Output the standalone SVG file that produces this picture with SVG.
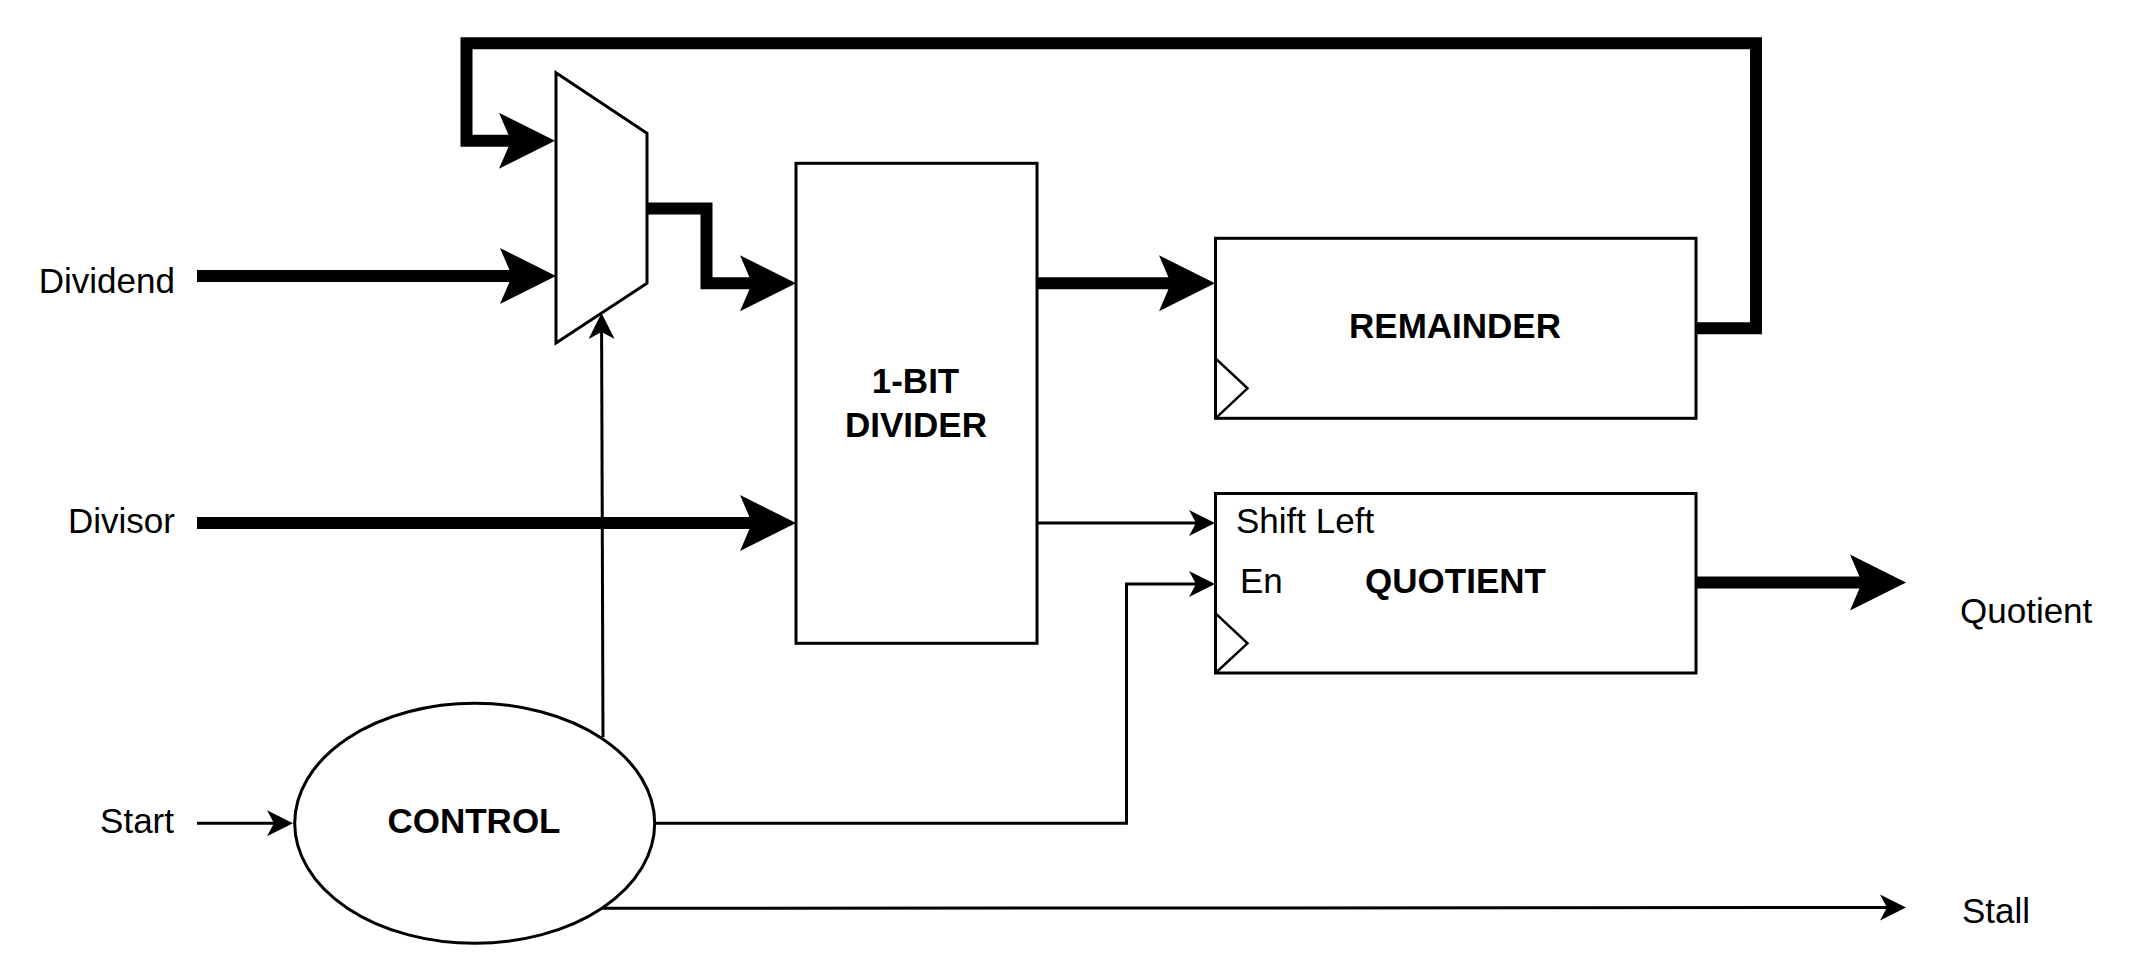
<svg xmlns="http://www.w3.org/2000/svg" width="2133" height="960" viewBox="0 0 2133 960">
<style>
.box{fill:#fff;stroke:#000;stroke-width:3}
.clk{fill:none;stroke:#000;stroke-width:2.5}
.bus{fill:none;stroke:#000;stroke-width:12;stroke-linejoin:miter}
.wire{fill:none;stroke:#000;stroke-width:3}
.t{font-family:"Liberation Sans",Arial,sans-serif;font-size:35px;fill:#000}
.b{font-weight:bold}
.m{text-anchor:middle}
.e{text-anchor:end}
</style>
<defs>
<marker id="big" markerUnits="userSpaceOnUse" viewBox="-1 -30 60 60" refX="12" refY="0" markerWidth="60" markerHeight="60" orient="auto" overflow="visible">
<path d="M0,-28 L56,0 L0,28 L12,0 Z" fill="#000"/>
</marker>
<marker id="small" markerUnits="userSpaceOnUse" viewBox="-1 -15 30 30" refX="7" refY="0" markerWidth="30" markerHeight="30" orient="auto" overflow="visible">
<path d="M0,-13 L26,0 L0,13 L7,0 Z" fill="#000"/>
</marker>
</defs>

<g id="connectors">
<path class="bus" d="M1696,328.3 H1756 V43.3 H466.5 V140.8 H511" marker-end="url(#big)"/>
<path class="bus" d="M197,276 H512" marker-end="url(#big)"/>
<path class="bus" d="M647,208.5 H706.5 V283.3 H752" marker-end="url(#big)"/>
<path class="bus" d="M197,523 H752" marker-end="url(#big)"/>
<path class="bus" d="M1037,283.3 H1171" marker-end="url(#big)"/>
<path class="bus" d="M1696,582.5 H1862" marker-end="url(#big)"/>
<path class="wire" d="M1037,523 H1196" marker-end="url(#small)"/>
<path class="wire" d="M655,823.3 H1126.5 V584 H1196" marker-end="url(#small)"/>
<path class="wire" d="M603,737 L601.6,332" marker-end="url(#small)"/>
<path class="wire" d="M603,908.3 L1887,907.5" marker-end="url(#small)"/>
<path class="wire" d="M197,823.3 H274" marker-end="url(#small)"/>
</g>

<g id="mux">
<polygon class="box" points="556,72.7 647,133.3 647,283.3 556,343"/>
</g>

<g id="divider">
<rect class="box" x="796" y="163.3" width="241" height="480"/>
<text class="t b m" x="915.5" y="392.7">1-BIT</text>
<text class="t b m" x="916" y="437.3">DIVIDER</text>
</g>

<g id="remainder">
<rect class="box" x="1215.5" y="238.3" width="480.5" height="180"/>
<polyline class="clk" points="1215.5,358.3 1247.5,388.3 1215.5,418.3"/>
<text class="t b m" x="1455" y="338.3">REMAINDER</text>
</g>

<g id="quotient">
<rect class="box" x="1215.5" y="493.5" width="480.5" height="179.5"/>
<polyline class="clk" points="1215.5,613.3 1247.5,643.3 1215.5,673"/>
<text class="t" x="1236" y="533.3">Shift Left</text>
<text class="t" x="1240" y="593.3">En</text>
<text class="t b m" x="1455.5" y="593.3">QUOTIENT</text>
</g>

<g id="control">
<ellipse class="box" cx="474.7" cy="823.3" rx="180" ry="120"/>
<text class="t b m" x="474" y="833.3">CONTROL</text>
</g>

<g id="labels">
<text class="t e" x="175" y="293.3">Dividend</text>
<text class="t e" x="175" y="533.3">Divisor</text>
<text class="t e" x="174" y="833.3">Start</text>
<text class="t" x="1960" y="623.3">Quotient</text>
<text class="t" x="1962" y="923.3">Stall</text>
</g>
</svg>
